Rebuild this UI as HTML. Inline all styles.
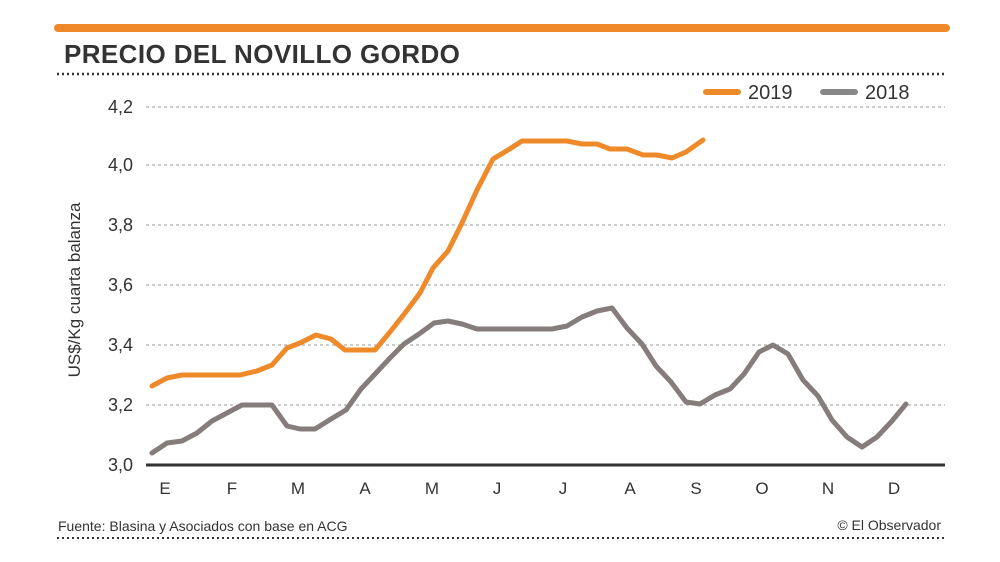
<!DOCTYPE html><html><head><meta charset="utf-8"><style>body{margin:0;background:#fff}svg{display:block}text{font-family:"Liberation Sans",sans-serif}</style></head><body>
<svg width="1000" height="562" viewBox="0 0 1000 562">
<line x1="58" y1="28" x2="946" y2="28" stroke="#ef8a2a" stroke-width="8" stroke-linecap="round"/>
<text x="64" y="63" font-size="26" font-weight="bold" fill="#333" letter-spacing="0.4">PRECIO DEL NOVILLO GORDO</text>
<line x1="57" y1="74" x2="946" y2="74" stroke="#333" stroke-width="2.5" stroke-dasharray="2,3"/>
<g stroke="#999" stroke-width="1" stroke-dasharray="3,3">
<line x1="146" y1="107" x2="945" y2="107"/><line x1="146" y1="165" x2="945" y2="165"/><line x1="146" y1="225" x2="945" y2="225"/><line x1="146" y1="285" x2="945" y2="285"/><line x1="146" y1="345" x2="945" y2="345"/><line x1="146" y1="405" x2="945" y2="405"/></g>
<line x1="146" y1="465" x2="945" y2="465" stroke="#333" stroke-width="3"/>
<g font-size="18" fill="#333" text-anchor="end">
<text x="133" y="113">4,2</text><text x="133" y="171">4,0</text><text x="133" y="231">3,8</text><text x="133" y="291">3,6</text><text x="133" y="351">3,4</text><text x="133" y="411">3,2</text><text x="133" y="471">3,0</text></g>
<g font-size="17" fill="#333" text-anchor="middle">
<text x="165" y="494">E</text><text x="232" y="494">F</text><text x="298" y="494">M</text><text x="365" y="494">A</text><text x="432" y="494">M</text><text x="497" y="494">J</text><text x="563" y="494">J</text><text x="630" y="494">A</text><text x="696" y="494">S</text><text x="762" y="494">O</text><text x="828" y="494">N</text><text x="894" y="494">D</text></g>
<text transform="translate(80,290) rotate(-90)" font-size="17" fill="#333" text-anchor="middle">US$/Kg cuarta balanza</text>
<line x1="706" y1="92" x2="738" y2="92" stroke="#ef8a2a" stroke-width="6" stroke-linecap="round"/>
<text x="748" y="99" font-size="20" fill="#333">2019</text>
<line x1="823" y1="92" x2="855" y2="92" stroke="#888" stroke-width="6" stroke-linecap="round"/>
<text x="865" y="99" font-size="20" fill="#333">2018</text>
<polyline fill="none" stroke="#857d7b" stroke-width="5" stroke-linejoin="round" stroke-linecap="round" points="152,453 167,443 182,441 197,433 212,421 227,413 242,405 272,405 287,426 300,429 315,429 331,419 346,410 361,389 376,373 390,358 404,344 419,334 434,323 448,321 462,324 477,329 552,329 567,326 582,317 597,311 612,308 627,328 642,344 656,366 671,382 686,402 700,404 715,395 730,389 744,374 759,352 773,345 788,354 803,380 818,396 832,420 847,437 862,447 877,437 892,421 906,404"/>
<polyline fill="none" stroke="#ef8a2a" stroke-width="5" stroke-linejoin="round" stroke-linecap="round" points="152,386 167,378 182,375 197,375 240,375 257,371 272,365 287,348 300,343 316,335 331,339 345,350 375,350 390,332 405,313 420,293 433,268 448,251 462,223 477,190 493,159 508,150 522,141 567,141 582,144 597,144 610,149 627,149 643,155 657,155 672,158 686,152 703,140"/>
<text x="58" y="531" font-size="14" fill="#333">Fuente: Blasina y Asociados con base en ACG</text>
<text x="941" y="530" font-size="14" fill="#333" text-anchor="end">© El Observador</text>
<line x1="57" y1="538" x2="946" y2="538" stroke="#333" stroke-width="2" stroke-dasharray="2,3"/>
</svg></body></html>
